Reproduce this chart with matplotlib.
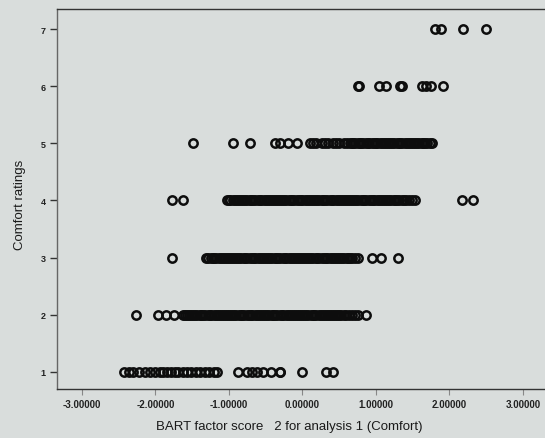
import matplotlib
matplotlib.use("Agg")
import matplotlib.pyplot as plt

# Comfort rating rows and the factor scores read for each
row7 = [1.80, 1.89, 2.19, 2.50]
row6 = [0.75, 0.77, 1.04, 1.13, 1.33, 1.36, 1.62, 1.68, 1.75, 1.91]
row5 = [-1.49, -0.94, -0.71, -0.37, -0.31, -0.20, -0.08,
        0.10, 0.15, 0.19, 0.26, 0.31, 0.35, 0.42, 0.46, 0.50, 0.56, 0.61,
        0.64, 0.67, 0.69, 0.72, 0.75, 0.78, 0.80, 0.83, 0.86, 0.89, 0.91, 0.94,
        0.97, 1.00, 1.02, 1.05, 1.08, 1.11, 1.14, 1.16, 1.19, 1.22, 1.25, 1.28,
        1.31, 1.33, 1.36, 1.39, 1.42, 1.45, 1.47, 1.50, 1.53, 1.56, 1.59, 1.62,
        1.64, 1.67, 1.70, 1.73, 1.76]
row4 = [-1.77, -1.63,
        -1.03, -1.00, -0.98, -0.95, -0.92, -0.89, -0.86, -0.84, -0.81, -0.78,
        -0.75, -0.72, -0.70, -0.67, -0.64, -0.61, -0.58, -0.56, -0.53, -0.50,
        -0.47, -0.44, -0.42, -0.39, -0.36, -0.33, -0.30, -0.28, -0.25, -0.22,
        -0.19, -0.16, -0.14, -0.11, -0.08, -0.05, -0.02, 0.00, 0.03, 0.06,
        0.09, 0.12, 0.14, 0.17, 0.20, 0.23, 0.26, 0.28, 0.31, 0.34, 0.37, 0.40,
        0.42, 0.45, 0.48, 0.51, 0.54, 0.56, 0.59, 0.62, 0.65, 0.68, 0.70, 0.73,
        0.76, 0.79, 0.82, 0.84, 0.87, 0.90, 0.93, 0.96, 0.98, 1.01, 1.04, 1.07,
        1.10, 1.12, 1.15, 1.18, 1.21, 1.24, 1.26, 1.29, 1.32, 1.35, 1.38, 1.41,
        1.45, 1.49, 1.53,
        2.17, 2.32]
row3 = [-1.78,
        -1.31, -1.28, -1.25, -1.22, -1.20, -1.17, -1.14, -1.11, -1.08, -1.06,
        -1.03, -1.00, -0.97, -0.94, -0.92, -0.89, -0.86, -0.83, -0.80, -0.78,
        -0.75, -0.72, -0.69, -0.66, -0.64, -0.61, -0.58, -0.55, -0.52, -0.50,
        -0.47, -0.44, -0.41, -0.38, -0.36, -0.33, -0.30, -0.27, -0.24, -0.22,
        -0.19, -0.16, -0.13, -0.10, -0.08, -0.05, -0.02, 0.01, 0.04, 0.06,
        0.09, 0.12, 0.15, 0.18, 0.20, 0.23, 0.26, 0.29, 0.32, 0.34, 0.37, 0.40,
        0.43, 0.46, 0.48, 0.51, 0.54, 0.57, 0.60, 0.62, 0.65, 0.68, 0.72, 0.76,
        0.94, 1.07, 1.30]
row2 = [-2.27, -1.96, -1.86, -1.75,
        -1.63, -1.60, -1.57, -1.54, -1.52, -1.49, -1.46, -1.43, -1.40, -1.38,
        -1.35, -1.32, -1.29, -1.26, -1.24, -1.21, -1.18, -1.15, -1.12, -1.10,
        -1.07, -1.04, -1.01, -0.98, -0.96, -0.93, -0.90, -0.87, -0.84, -0.82,
        -0.79, -0.76, -0.73, -0.70, -0.68, -0.65, -0.62, -0.59, -0.56, -0.54,
        -0.51, -0.48, -0.45, -0.42, -0.40, -0.37, -0.34, -0.31, -0.28, -0.26,
        -0.23, -0.20, -0.17, -0.14, -0.12, -0.09, -0.06, -0.03, 0.00, 0.02,
        0.05, 0.08, 0.11, 0.14, 0.16, 0.19, 0.22, 0.25, 0.28, 0.30, 0.33, 0.36,
        0.39, 0.42, 0.44, 0.47, 0.50, 0.53, 0.56, 0.59, 0.63, 0.67, 0.71, 0.76,
        0.87]
row1 = [-2.43, -2.36, -2.30, -2.22, -2.14, -2.07, -2.01, -1.94, -1.90, -1.85,
        -1.79, -1.74, -1.70, -1.63, -1.57, -1.51, -1.45, -1.39, -1.33, -1.27,
        -1.21, -1.16,
        -0.88, -0.76, -0.68, -0.62, -0.54, -0.43, -0.31, -0.30,
        0.00, 0.32, 0.42]

ratings = [1, 2, 3, 4, 5, 6, 7]
scores = [row1, row2, row3, row4, row5, row6, row7]

x_ticks = [-3, -2, -1, 0, 1, 2, 3]
x_ticklabels = ["-3.00000", "-2.00000", "-1.00000", "0.00000", "1.00000", "2.00000", "3.00000"]
y_ticks = [1, 2, 3, 4, 5, 6, 7]

bg = "#d9dddc"
fig = plt.figure(figsize=(5.45, 4.39), dpi=100, facecolor=bg)
ax = fig.add_axes([57/545, 49/439, 1 - 57/545, (390 - 9.5)/439])
ax.set_facecolor(bg)

for r, xs in zip(ratings, scores):
    ax.plot(xs, [r]*len(xs), linestyle="none", marker="o", ms=6.0, mew=1.8,
            mfc="none", mec="#0d0d0d")

ax.set_xlim(-3.34, 3.30)
ax.set_ylim(0.70, 7.36)

ax.set_xticks(x_ticks)
ax.set_xticklabels(x_ticklabels, fontfamily="Liberation Sans", fontweight="bold",
                   fontsize=7, color="#222222")
ax.set_yticks(y_ticks)
ax.set_yticklabels([str(v) for v in y_ticks], fontfamily="Liberation Sans",
                   fontweight="bold", fontsize=6.5, color="#222222")
ax.tick_params(axis="x", direction="out", length=4, width=0.8, color="#888888", pad=3)
ax.tick_params(axis="y", direction="out", length=5, width=1.0, color="#333333", pad=3)

for s in ["top", "bottom", "left"]:
    ax.spines[s].set_color("#333333")
    ax.spines[s].set_linewidth(1.0)
ax.spines["left"].set_color("#666666")
ax.spines["right"].set_visible(False)

fig.text(289/545, 1 - 427/439, "BART factor score   2 for analysis 1 (Comfort)",
         ha="center", va="center", fontfamily="Liberation Sans", fontsize=9.5,
         color="#1a1a1a")
fig.text(20/545, 1 - 205/439, "Comfort ratings", rotation=90, ha="center",
         va="center", fontfamily="Liberation Sans", fontsize=9.5, color="#1a1a1a")

fig.savefig("out.png", dpi=100, facecolor=bg)
